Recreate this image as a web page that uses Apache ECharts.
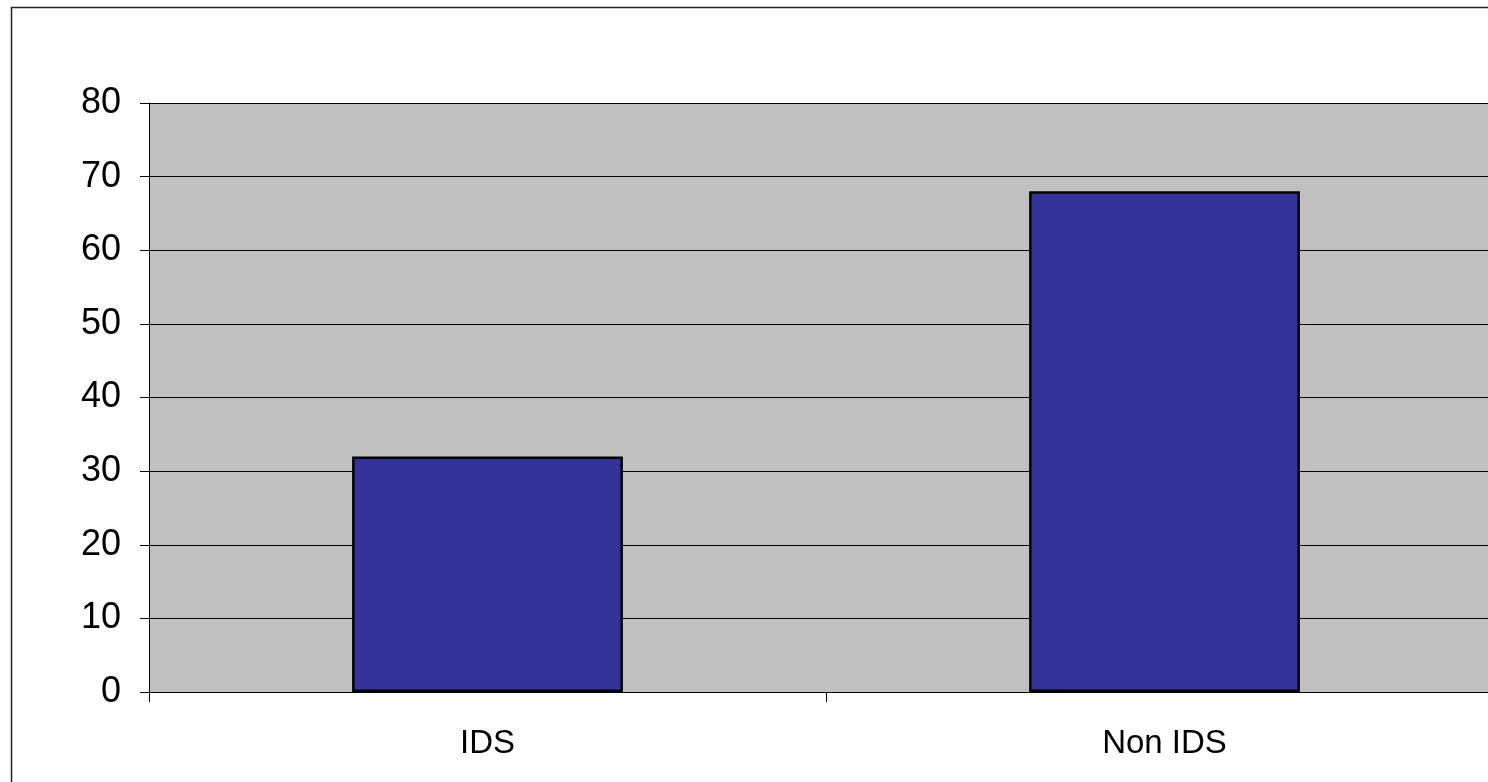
<!DOCTYPE html>
<html>
<head>
<meta charset="utf-8">
<script src="https://cdn.jsdelivr.net/npm/echarts@6/dist/echarts.min.js"></script>
<style>
  html, body { margin: 0; padding: 0; background: #fff; }
  #chart { width: 1488px; height: 782px; }
</style>
</head>
<body>
<div id="chart"></div>
<script>
// categories and values
const categories = ['IDS', 'Non IDS'];
const counts = [32, 68];
const yTicks = [0, 10, 20, 30, 40, 50, 60, 70, 80];

const labelFont = '"Liberation Sans", Arial, sans-serif';

const chart = echarts.init(document.getElementById('chart'));
chart.setOption({
  animation: false,
  // outer chart frame (clipped on the right and bottom like the source)
  graphic: [{
    type: 'rect',
    shape: { x: 11.5, y: 7.5, width: 2000, height: 2000 },
    style: { fill: 'none', stroke: '#222', lineWidth: 1.5 },
    silent: true
  }],
  grid: {
    left: 149, top: 103, width: 1354, bottom: 90,
    outerBoundsMode: 'none',
    show: true, backgroundColor: '#C0C0C0', borderWidth: 0
  },
  xAxis: {
    type: 'category',
    data: categories,
    axisLine: { lineStyle: { color: '#000', width: 1 } },
    axisTick: { show: true, length: 10, lineStyle: { color: '#000' } },
    axisLabel: { color: '#000', fontSize: 33, fontFamily: labelFont, margin: 35 }
  },
  yAxis: {
    type: 'value',
    min: yTicks[0],
    max: yTicks[yTicks.length - 1],
    interval: 10,
    axisLine: { show: true, lineStyle: { color: '#000', width: 1 } },
    axisTick: { show: true, length: 9, lineStyle: { color: '#000' } },
    axisLabel: { color: '#000', fontSize: 36, fontFamily: labelFont, margin: 28 },
    splitLine: { show: true, lineStyle: { color: '#000', width: 1 } }
  },
  series: [{
    type: 'bar',
    data: counts,
    barWidth: '40%',
    itemStyle: { color: '#333399', borderColor: '#000', borderWidth: 2.5 }
  }]
});
</script>
</body>
</html>
